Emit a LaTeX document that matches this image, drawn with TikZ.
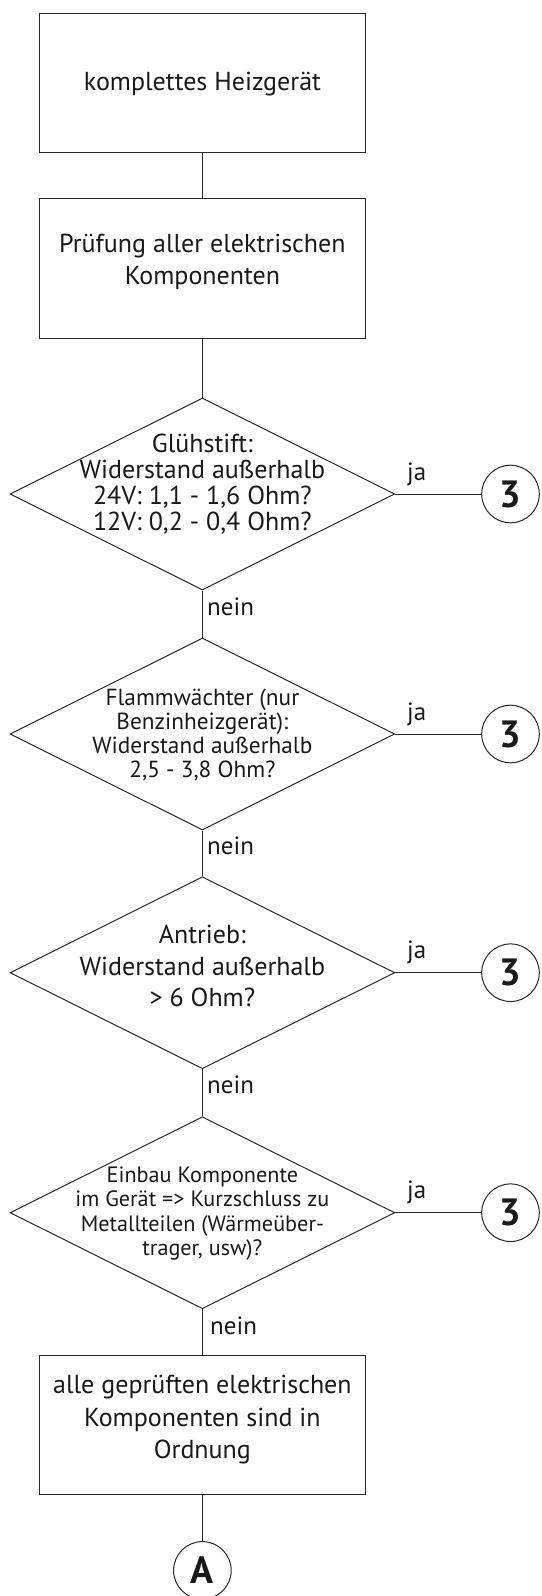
\documentclass[tikz,border=0pt]{standalone}
\usepackage{fontspec}
\setmainfont{PT Sans}
\usetikzlibrary{shapes.geometric}
\begin{document}
\begin{tikzpicture}[x=1pt,y=-1pt,
  ln/.style={line width=1pt, draw=black!85},
  stepbox/.style={ln, rectangle, minimum width=325.4pt, minimum height=139.3pt, inner sep=0pt},
  dia/.style={ln, diamond, minimum width=384.8pt, minimum height=192pt, inner sep=0pt},
  conn/.style={ln, circle, minimum size=57.6pt, inner sep=0pt, text=black!90, font=\fontsize{38}{40}\selectfont\bfseries},
  txt/.style={align=center, inner sep=0pt, text=black!90},
  big/.style={txt, font=\fontsize{26}{32.5}\selectfont},
  lbl/.style={inner sep=0pt, text=black!90, font=\fontsize{25}{26}\selectfont},
  edge/.style={ln}
]
\useasboundingbox (0,0) rectangle (541,1596);

% boxes
\node[stepbox] (b1) at (202.4,82.7) {};
\node[big] (b1t) at (202.4,84) {komplettes Heizgerät};
\node[stepbox] (b2) at (202.4,268.5) {};
\node[big] (b2t) at (202.4,262) {Prüfung aller elektrischen\\Komponenten};

% diamonds
\node[dia] (d1) at (202.4,494) {};
\node[txt, font=\fontsize{26}{26}\selectfont] (d1t) at (202.4,484) {Glühstift:\\Widerstand außerhalb\\24V: 1,1 - 1,6 Ohm?\\12V: 0,2 - 0,4 Ohm?};
\node[dia] (d2) at (202.4,734) {};
\node[txt, font=\fontsize{23.3}{23.8}\selectfont] (d2t) at (202.4,735) {Flammwächter (nur\\Benzinheizgerät):\\Widerstand außerhalb\\2,5 - 3,8 Ohm?};
\node[dia] (d3) at (202.4,972.7) {};
\node[txt, font=\fontsize{26}{31.3}\selectfont] (d3t) at (202.4,966) {Antrieb:\\Widerstand außerhalb\\> 6 Ohm?};
\node[dia] (d4) at (202.4,1212.7) {};
\node[txt, font=\fontsize{22.2}{24.5}\selectfont] (d4t) at (202.4,1213.5) {Einbau Komponente\\im Gerät => Kurzschluss zu\\Metallteilen (Wärmeüber-\\trager, usw)?};

% final box
\node[stepbox] (b3) at (202.4,1425.3) {};
\node[big] (b3t) at (202.4,1420) {alle geprüften elektrischen\\Komponenten sind in\\Ordnung};

% connectors circles
\node[conn] (c1) at (510.5,494) {3};
\node[conn] (c2) at (510.5,734) {3};
\node[conn] (c3) at (510.5,972.7) {3};
\node[conn] (c4) at (510.5,1212.7) {3};
\node[conn] (cA) at (202.4,1570.4) {A};

% edges
\draw[edge] (b1.south) -- (b2.north);
\draw[edge] (b2.south) -- (d1.north);
\draw[edge] (d1.south) -- (d2.north);
\draw[edge] (d2.south) -- (d3.north);
\draw[edge] (d3.south) -- (d4.north);
\draw[edge] (d4.south) -- (b3.north);
\draw[edge] (b3.south) -- (cA.north);
\draw[edge] (d1.east) -- (c1.west);
\draw[edge] (d2.east) -- (c2.west);
\draw[edge] (d3.east) -- (c3.west);
\draw[edge] (d4.east) -- (c4.west);

% labels
\node[lbl, anchor=base west] (j1) at (407,480) {ja};
\node[lbl, anchor=base west] (j2) at (407,720) {ja};
\node[lbl, anchor=base west] (j3) at (407,958.7) {ja};
\node[lbl, anchor=base west] (j4) at (407,1198.7) {ja};
\node[lbl, anchor=base west] (n1) at (207,615) {nein};
\node[lbl, anchor=base west] (n2) at (207,854) {nein};
\node[lbl, anchor=base west] (n3) at (207,1093.3) {nein};
\node[lbl, anchor=base west] (n4) at (210,1334.7) {nein};
\end{tikzpicture}
\end{document}
